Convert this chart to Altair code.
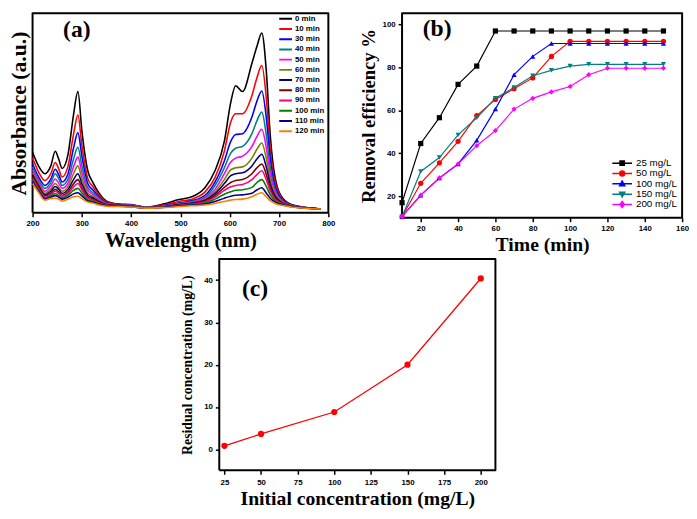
import altair as alt
import pandas as pd

# ---------------- Panel (a): UV-vis spectra ----------------
WAVELENGTH = [200, 212, 225, 237, 246, 253, 260, 272, 283, 292, 300, 312, 322, 335, 350, 375, 400, 430, 465, 497,
              523, 550, 570, 589, 602, 612, 626, 645, 655, 665, 674, 682, 692, 708, 728, 785]
A_SERIES = ["0 min", "10 min", "30 min", "40 min", "50 min", "60 min", "70 min", "80 min",
            "90 min", "100 min", "110 min", "120 min"]
A_COLORS = ["#000000", "#FF0000", "#0000FF", "#008080", "#FF00FF", "#808000", "#000080", "#800000",
            "#FF0080", "#008000", "#00008B", "#FF8000"]
ABS_0 = [.31, .24, .20, .24, .315, .275, .227, .30, .50, .62, .42, .215, .157, .10, .06, .045, .042, .03, .045, .068,
         .082, .13, .215, .365, .565, .65, .62, .765, .85, .92, .73, .40, .18, .073, .04, .02]
ABS_10 = [.28, .21, .165, .20, .257, .225, .183, .24, .40, .50, .345, .175, .135, .092, .055, .043, .04, .029, .04, .058,
          .07, .107, .18, .315, .465, .507, .507, .60, .69, .753, .59, .33, .155, .068, .038, .02]
ABS_30 = [.25, .185, .14, .172, .223, .195, .158, .20, .33, .41, .29, .15, .118, .082, .05, .042, .039, .028, .036, .05,
          .062, .09, .157, .265, .365, .40, .405, .49, .57, .623, .49, .28, .135, .063, .037, .02]
ABS_40 = [.235, .17, .125, .155, .20, .175, .14, .173, .275, .335, .24, .13, .104, .075, .048, .041, .038, .028, .034, .047,
          .058, .08, .14, .23, .305, .33, .34, .405, .47, .515, .40, .235, .118, .058, .036, .02]
ABS_50 = [.22, .16, .11, .138, .173, .152, .125, .153, .235, .285, .205, .115, .094, .068, .046, .04, .037, .027, .033, .045,
          .055, .075, .12, .20, .26, .28, .29, .34, .39, .427, .335, .20, .105, .055, .035, .02]
ABS_60 = [.205, .15, .10, .122, .15, .132, .11, .135, .20, .24, .175, .10, .085, .062, .044, .039, .036, .027, .032, .043,
          .052, .07, .108, .17, .22, .23, .235, .28, .325, .357, .28, .17, .093, .052, .034, .02]
ABS_70 = [.195, .14, .092, .11, .135, .12, .10, .12, .17, .20, .15, .09, .077, .058, .042, .038, .035, .026, .031, .042,
          .05, .065, .098, .15, .19, .20, .205, .24, .275, .30, .235, .148, .085, .05, .033, .02]
ABS_80 = [.185, .132, .085, .10, .12, .107, .09, .108, .148, .17, .13, .08, .07, .054, .04, .037, .034, .026, .03, .04,
          .047, .06, .088, .13, .155, .165, .17, .20, .23, .25, .197, .127, .077, .048, .032, .02]
ABS_90 = [.175, .125, .08, .094, .11, .099, .085, .10, .133, .15, .118, .074, .065, .05, .039, .036, .033, .025, .03, .038,
          .045, .055, .08, .115, .133, .14, .145, .17, .195, .215, .17, .112, .07, .046, .032, .02]
ABS_100 = [.165, .118, .075, .087, .098, .089, .077, .09, .115, .125, .102, .066, .06, .047, .038, .035, .032, .025, .029, .036,
           .042, .05, .07, .095, .108, .115, .118, .13, .155, .17, .135, .093, .062, .043, .031, .02]
ABS_110 = [.158, .112, .07, .08, .088, .08, .07, .08, .097, .103, .087, .06, .055, .044, .036, .034, .031, .024, .028, .035,
           .04, .045, .058, .075, .085, .09, .092, .10, .117, .128, .102, .075, .055, .04, .03, .02]
ABS_120 = [.15, .105, .065, .073, .075, .07, .06, .07, .082, .085, .073, .055, .05, .04, .034, .032, .03, .024, .027, .032,
           .036, .04, .048, .058, .065, .068, .07, .082, .095, .103, .082, .062, .048, .037, .029, .02]
A_VALUES = [ABS_0, ABS_10, ABS_30, ABS_40, ABS_50, ABS_60, ABS_70, ABS_80, ABS_90, ABS_100, ABS_110, ABS_120]
A_XTICKS = [200, 300, 400, 500, 600, 700, 800]

# ---------------- Panel (b): removal efficiency ----------------
TIME = [10, 20, 30, 40, 50, 60, 70, 80, 90, 100, 110, 120, 130, 140, 150]
B_SERIES = ["25 mg/L", "50 mg/L", "100 mg/L", "150 mg/L", "200 mg/L"]
B_COLORS = ["#000000", "#FF0000", "#0000FF", "#008080", "#FF00FF"]
B_SHAPES = ["square", "circle", "triangle-up", "triangle-down", "diamond"]
EFF_25 = [17, 44.5, 56.5, 72, 80.5, 96.8, 96.8, 96.8, 96.8, 96.8, 96.8, 96.8, 96.8, 96.8, 96.8]
EFF_50 = [10.5, 26, 35.5, 45.5, 57.5, 65, 70, 75, 85, 92, 92, 92, 92, 92, 92]
EFF_100 = [10.5, 20.5, 28.5, 35, 46, 60.5, 76.5, 85, 91, 91, 91, 91, 91, 91, 91]
EFF_150 = [10.5, 31.5, 38, 48.5, 56.5, 65.5, 70.5, 76, 78.5, 80.5, 81.3, 81.3, 81.3, 81.3, 81.3]
EFF_200 = [10.5, 20.5, 28.5, 35, 43.5, 50.5, 60.5, 65.5, 68.5, 71, 76.5, 79.5, 79.5, 79.5, 79.5]
B_VALUES = [EFF_25, EFF_50, EFF_100, EFF_150, EFF_200]
B_XTICKS = [20, 40, 60, 80, 100, 120, 140, 160]
B_YTICKS = [20, 40, 60, 80, 100]

# ---------------- Panel (c): residual concentration ----------------
INITIAL = [25, 50, 100, 150, 200]
RESIDUAL = [0.8, 3.6, 8.8, 20.0, 40.4]
C_XTICKS = [25, 50, 75, 100, 125, 150, 175, 200]
C_YTICKS = [0, 10, 20, 30, 40]

PANEL_LABELS = ["(a)", "(b)", "(c)"]

# axis ranges
A_XDOM, A_YDOM = [200, 800], [0, 1.02]
B_XDOM, B_YDOM = [10, 160], [10, 105]
C_XDOM, C_YDOM = [21.5, 210], [-5, 45]

SERIF = "Liberation Serif"
SANS = "Liberation Sans"

# legend symbols for panel (b): a line with the marker in the middle
B_LEGEND_PATHS = [
    "M-1,0H1M-0.22,-0.22H0.22V0.22H-0.22Z",
    "M-1,0H1M-0.25,0A0.25,0.25,0,1,0,0.25,0A0.25,0.25,0,1,0,-0.25,0Z",
    "M-1,0H1M0,-0.28L0.26,0.2L-0.26,0.2Z",
    "M-1,0H1M0,0.28L0.26,-0.2L-0.26,-0.2Z",
    "M-1,0H1M0,-0.3L0.22,0L0,0.3L-0.22,0Z",
]


def panel_label(text, px, py):
    return alt.Chart(pd.DataFrame({"label": [text]})).mark_text(
        align="left", baseline="middle", font=SERIF, fontSize=24, fontWeight="bold", color="black"
    ).encode(text="label:N", x=alt.value(px), y=alt.value(py))


def frame(xdom, ydom, xf, yf):
    """Closed box along the scale domain (the panel border)."""
    corners = pd.DataFrame({
        xf: [xdom[0], xdom[1], xdom[1], xdom[0], xdom[0]],
        yf: [ydom[0], ydom[0], ydom[1], ydom[1], ydom[0]],
        "i": [0, 1, 2, 3, 4],
    })
    return alt.Chart(corners).mark_line(strokeWidth=2, strokeJoin="round", clip=False).encode(
        x=alt.X(f"{xf}:Q"), y=alt.Y(f"{yf}:Q"), order=alt.Order("i:Q"), stroke=alt.value("black"))


# ----- build (a)
rows_a = []
for name, vals in zip(A_SERIES, A_VALUES):
    for w, v in zip(WAVELENGTH, vals):
        rows_a.append({"wl": w, "abs": v, "series": name})
df_a = pd.DataFrame(rows_a)

XA = alt.X("wl:Q", scale=alt.Scale(domain=A_XDOM, nice=False, zero=False),
           axis=alt.Axis(values=A_XTICKS, format="d", title="Wavelength (nm)", titleFontSize=21, titlePadding=2,
                         labelOverlap=False))
YA = alt.Y("abs:Q", scale=alt.Scale(domain=A_YDOM, nice=False),
           axis=alt.Axis(ticks=False, labels=False, title="Absorbance (a.u.)", titleFontSize=22, titlePadding=2))

lines_a = alt.Chart(df_a).mark_line(strokeWidth=1.6, interpolate="monotone").encode(
    x=XA, y=YA,
    stroke=alt.Stroke("series:N", scale=alt.Scale(domain=A_SERIES, range=A_COLORS),
                      legend=alt.Legend(title=None, orient="none", legendX=250, legendY=1, symbolType="M-1,0H1",
                                        symbolSize=169, symbolStrokeWidth=2, clipHeight=9, rowPadding=1.4,
                                        labelFontSize=8, labelFontWeight="bold", labelFont=SANS, labelColor="black",
                                        labelOffset=2, padding=0)),
)
chart_a = alt.layer(frame(A_XDOM, A_YDOM, "wl", "abs"), lines_a, panel_label(PANEL_LABELS[0], 31, 17)).properties(
    width=301, height=203)

# ----- build (b)
rows_b = []
for name, vals in zip(B_SERIES, B_VALUES):
    for t, v in zip(TIME, vals):
        rows_b.append({"t": t, "eff": v, "series": name})
df_b = pd.DataFrame(rows_b)

XB = alt.X("t:Q", scale=alt.Scale(domain=B_XDOM, nice=False, zero=False),
           axis=alt.Axis(values=B_XTICKS, format="d", title="Time (min)", titleFontSize=20, titlePadding=2,
                         labelOverlap=False))
YB = alt.Y("eff:Q", scale=alt.Scale(domain=B_YDOM, nice=False, zero=False),
           axis=alt.Axis(values=B_YTICKS, format="d", title="Removal efficiency %", titleFontSize=19, titlePadding=4,
                         labelOverlap=False))

b_layers = [frame(B_XDOM, B_YDOM, "t", "eff")]
for name, col in zip(B_SERIES, B_COLORS):
    b_layers.append(alt.Chart(df_b).transform_filter(alt.datum.series == name)
                    .mark_line(color=col, strokeWidth=1.2).encode(x=XB, y=YB))
for name, col, shp in zip(B_SERIES, B_COLORS, B_SHAPES):
    b_layers.append(alt.Chart(df_b).transform_filter(alt.datum.series == name)
                    .mark_point(color=col, filled=True, opacity=1, shape=shp, size=28).encode(x=XB, y=YB))

leg_b = alt.Legend(title=None, orient="none", legendX=213, legendY=148, symbolSize=400, symbolStrokeWidth=1.5,
                   clipHeight=9, rowPadding=-0.5, labelFontSize=10, labelFont=SANS, labelColor="black",
                   labelOffset=3, padding=0)
legend_layer = alt.Chart(pd.DataFrame({"series": B_SERIES})).transform_filter("false").mark_point(
    filled=True, opacity=1, strokeWidth=1.5).encode(
    fill=alt.Fill("series:N", scale=alt.Scale(domain=B_SERIES, range=B_COLORS), legend=leg_b),
    stroke=alt.Stroke("series:N", scale=alt.Scale(domain=B_SERIES, range=B_COLORS), legend=leg_b),
    shape=alt.Shape("series:N", scale=alt.Scale(domain=B_SERIES, range=B_LEGEND_PATHS), legend=leg_b),
)
chart_b = alt.layer(*b_layers, legend_layer, panel_label(PANEL_LABELS[1], 21, 16)).properties(
    width=285, height=208)

# ----- build (c)
df_c = pd.DataFrame({"init": INITIAL, "resid": RESIDUAL})
XC = alt.X("init:Q", scale=alt.Scale(domain=C_XDOM, nice=False, zero=False),
           axis=alt.Axis(values=C_XTICKS, format="d", title="Initial concentration (mg/L)", titleFontSize=20,
                         titlePadding=3, labelPadding=4, labelOverlap=False))
YC = alt.Y("resid:Q", scale=alt.Scale(domain=C_YDOM, nice=False, zero=False),
           axis=alt.Axis(values=C_YTICKS, format="d", title="Residual concentration (mg/L)", titleFontSize=14,
                         titlePadding=9, labelOverlap=False))
c_frame = frame(C_XDOM, C_YDOM, "init", "resid")
c_line = alt.Chart(df_c).mark_line(color="#FF0000", strokeWidth=1.3).encode(x=XC, y=YC)
c_pts = alt.Chart(df_c).mark_point(color="#FF0000", filled=True, opacity=1, size=40, shape="circle").encode(x=XC, y=YC)
chart_c = alt.layer(c_frame, c_line, c_pts, panel_label(PANEL_LABELS[2], 23, 31)).properties(
    width=281, height=215)

spacer = alt.Chart(pd.DataFrame({"v": [0]})).mark_point(opacity=0, size=1).encode(
    x=alt.value(0), y=alt.value(0)).properties(width=141, height=10, view=alt.ViewBackground(strokeWidth=0))

RES = dict(color="independent", stroke="independent", fill="independent", shape="independent")
top = alt.hconcat(chart_a, chart_b, spacing=24).resolve_scale(**RES)
bottom = alt.hconcat(spacer, chart_c, spacing=10).resolve_scale(**RES)

chart = alt.vconcat(top, bottom, spacing=4).resolve_scale(**RES).properties(
    padding=0, background="white"
).configure_view(
    strokeWidth=0
).configure_axis(
    domain=False, grid=False, tickColor="black", tickWidth=1.5, tickSize=4,
    labelPadding=3, labelFont=SANS, labelFontWeight="bold", labelFontSize=8, labelColor="black",
    labelFlush=False, labelOverlap=False,
    titleFont=SERIF, titleFontWeight="bold", titleColor="black"
)

chart.save("out.html", embed_options={"renderer": "svg", "actions": False})
